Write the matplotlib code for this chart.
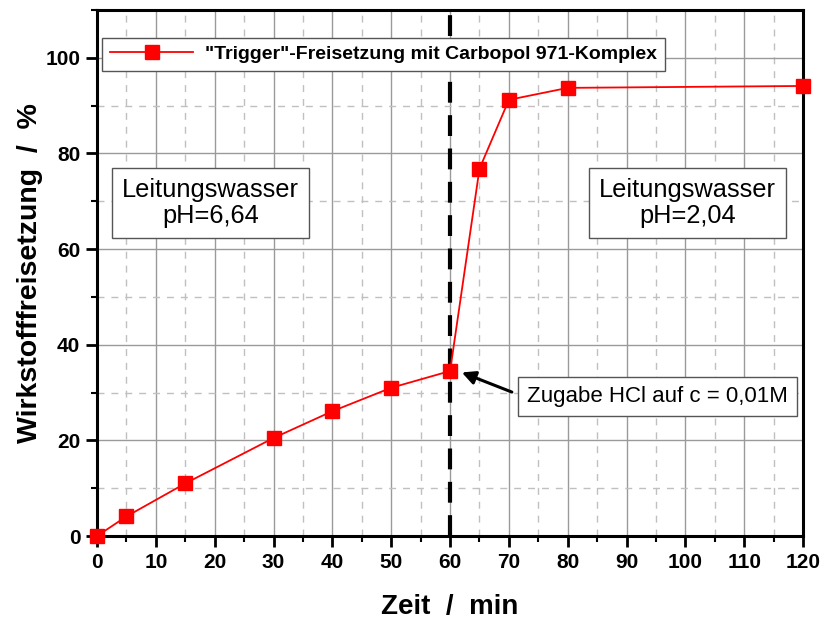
import matplotlib
matplotlib.use('Agg')
import matplotlib.pyplot as plt
from matplotlib.ticker import MultipleLocator

plt.rcParams['font.family'] = ['Liberation Sans', 'DejaVu Sans']

# Freisetzung ueber die Zeit
zeit = [0, 5, 15, 30, 40, 50, 60, 65, 70, 80, 120]
freisetzung = [0, 4.1, 11.0, 20.5, 26.1, 31.0, 34.5, 76.8, 91.2, 93.7, 94.1]
x_ticks = list(range(0, 121, 10))
y_ticks = list(range(0, 101, 20))

fig = plt.figure(figsize=(8.24, 6.19), dpi=100)
ax = fig.add_axes([0.1177, 0.134, 0.857, 0.850])

ax.set_xlim(0, 120)
ax.set_ylim(0, 110)
ax.set_xticks(x_ticks)
ax.set_yticks(y_ticks)
ax.xaxis.set_minor_locator(MultipleLocator(5))
ax.yaxis.set_minor_locator(MultipleLocator(10))

ax.grid(which='major', color='#9a9a9a', linestyle='-', linewidth=1.0)
ax.grid(which='minor', color='#c0c0c0', linestyle=(0, (5, 5)), linewidth=1.0)
ax.set_axisbelow(True)

for s in ax.spines.values():
    s.set_linewidth(2.2)

ax.tick_params(which='major', direction='out', length=8, width=2, labelsize=15, pad=4)
ax.tick_params(which='minor', direction='out', length=4, width=1.5)
for lab in ax.get_xticklabels() + ax.get_yticklabels():
    lab.set_fontweight('bold')

# Zugabe der Saeure bei 60 min
ax.axvline(60, color='black', linewidth=3, linestyle=(0, (5, 3)), zorder=3)

ax.plot(zeit, freisetzung, color='red', linewidth=1.3, marker='s', markersize=10,
        markerfacecolor='red', markeredgecolor='red', clip_on=False, zorder=4,
        label='"Trigger"-Freisetzung mit Carbopol 971-Komplex')

leg = ax.legend(loc='upper left', bbox_to_anchor=(0.007, 0.947), fancybox=False,
                framealpha=1, edgecolor='#555555', prop={'weight': 'bold', 'size': 14},
                handlelength=4.3, borderpad=0.4, handletextpad=0.6, borderaxespad=0)
leg.get_frame().set_linewidth(1.0)

box = dict(boxstyle='square,pad=0.4', facecolor='white', edgecolor='#555555', linewidth=1.0)
ax.text(19.3, 69.6, 'Leitungswasser\npH=6,64', ha='center', va='center', fontsize=18.3,
        bbox=box, linespacing=1.1, zorder=5)
ax.text(100.3, 69.6, 'Leitungswasser\npH=2,04', ha='center', va='center', fontsize=18.3,
        bbox=box, linespacing=1.1, zorder=5)

ax.text(73.1, 29.2, 'Zugabe HCl auf c = 0,01M', ha='left', va='center', fontsize=16,
        bbox=dict(boxstyle='square,pad=0.4', facecolor='white', edgecolor='#555555', linewidth=1.0),
        zorder=5)
ax.annotate('', xy=(62.0, 34.2), xytext=(70.5, 30.1),
            arrowprops=dict(arrowstyle='-|>', color='black', lw=2.2, mutation_scale=20,
                            shrinkA=0, shrinkB=0),
            zorder=5)

ax.set_xlabel('Zeit  /  min', fontsize=20, fontweight='bold', labelpad=16)
ax.set_ylabel('Wirkstofffreisetzung  /  %', fontsize=20.5, fontweight='bold', labelpad=2)

fig.savefig('out.png', dpi=100)
